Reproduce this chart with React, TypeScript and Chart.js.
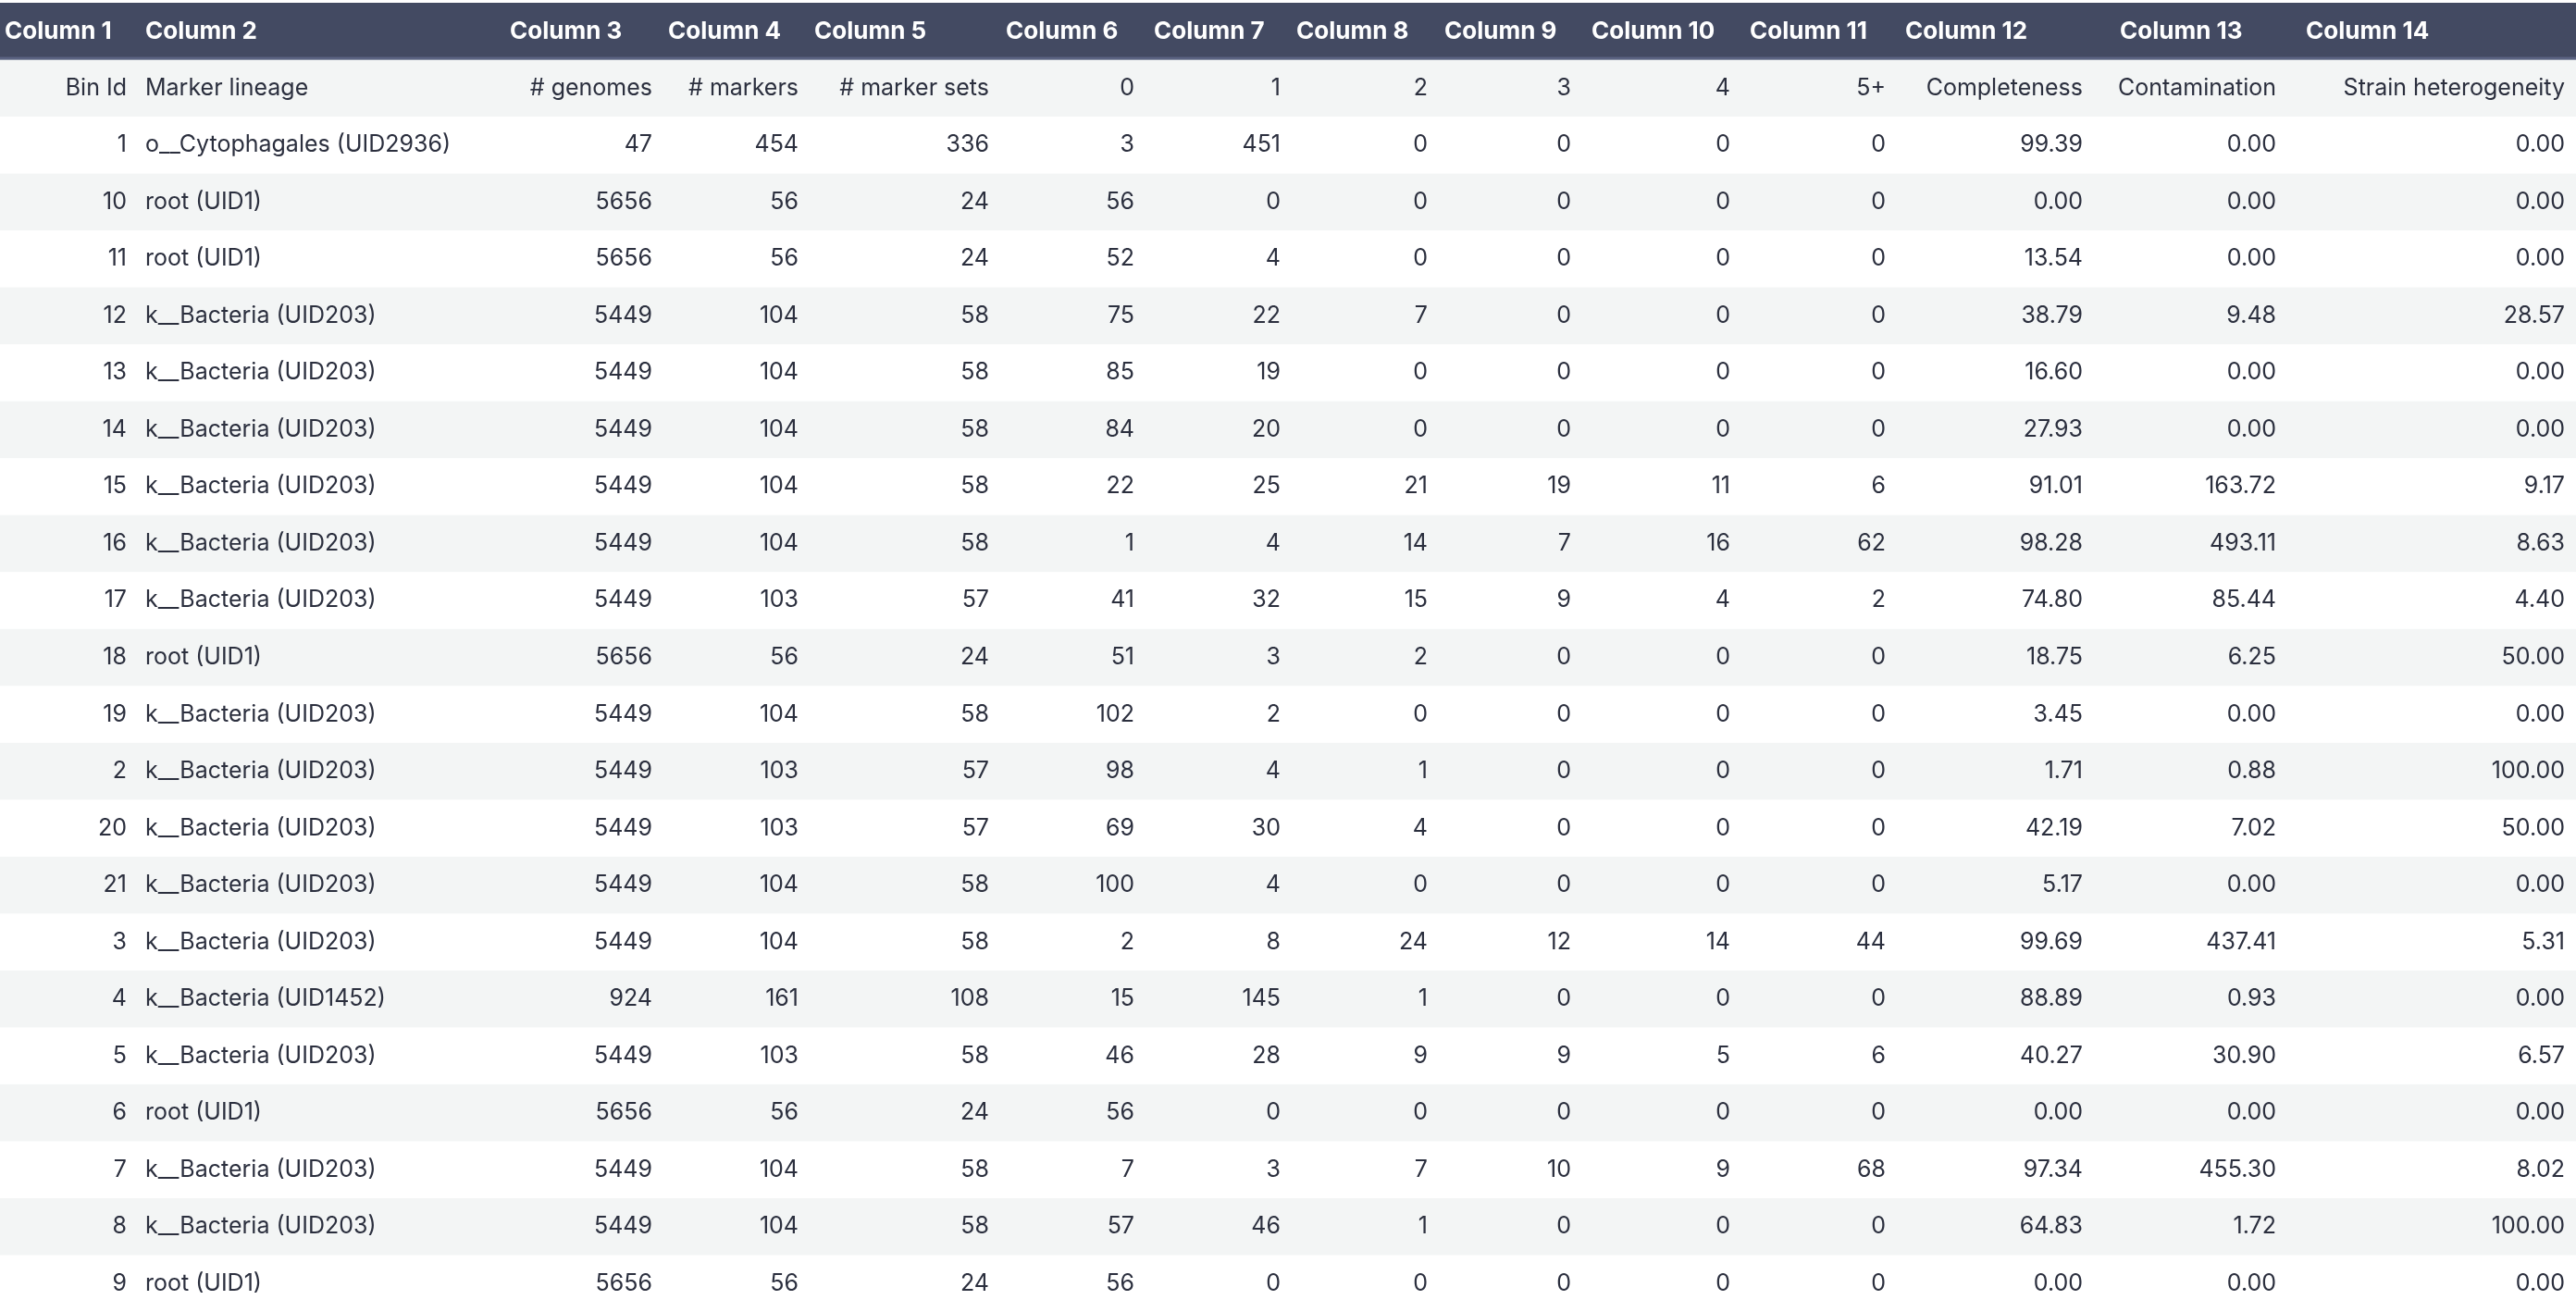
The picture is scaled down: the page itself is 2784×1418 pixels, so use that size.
import React, { useEffect, useRef } from "react";
import { Chart, registerables } from "chart.js";
Chart.register(...registerables);

const headers = ["Column 1","Column 2","Column 3","Column 4","Column 5","Column 6","Column 7","Column 8","Column 9","Column 10","Column 11","Column 12","Column 13","Column 14"];
const subHeaders = ["Bin Id","Marker lineage","# genomes","# markers","# marker sets","0","1","2","3","4","5+","Completeness","Contamination","Strain heterogeneity"];
const binIds = ["1","10","11","12","13","14","15","16","17","18","19","2","20","21","3","4","5","6","7","8","9"];
const lineages = ["o__Cytophagales (UID2936)","root (UID1)","root (UID1)","k__Bacteria (UID203)","k__Bacteria (UID203)","k__Bacteria (UID203)","k__Bacteria (UID203)","k__Bacteria (UID203)","k__Bacteria (UID203)","root (UID1)","k__Bacteria (UID203)","k__Bacteria (UID203)","k__Bacteria (UID203)","k__Bacteria (UID203)","k__Bacteria (UID203)","k__Bacteria (UID1452)","k__Bacteria (UID203)","root (UID1)","k__Bacteria (UID203)","k__Bacteria (UID203)","root (UID1)"];
const genomes = [47,5656,5656,5449,5449,5449,5449,5449,5449,5656,5449,5449,5449,5449,5449,924,5449,5656,5449,5449,5656];
const markers = [454,56,56,104,104,104,104,104,103,56,104,103,103,104,104,161,103,56,104,104,56];
const markerSets = [336,24,24,58,58,58,58,58,57,24,58,57,57,58,58,108,58,24,58,58,24];
const c0 = [3,56,52,75,85,84,22,1,41,51,102,98,69,100,2,15,46,56,7,57,56];
const c1 = [451,0,4,22,19,20,25,4,32,3,2,4,30,4,8,145,28,0,3,46,0];
const c2 = [0,0,0,7,0,0,21,14,15,2,0,1,4,0,24,1,9,0,7,1,0];
const c3 = [0,0,0,0,0,0,19,7,9,0,0,0,0,0,12,0,9,0,10,0,0];
const c4 = [0,0,0,0,0,0,11,16,4,0,0,0,0,0,14,0,5,0,9,0,0];
const c5 = [0,0,0,0,0,0,6,62,2,0,0,0,0,0,44,0,6,0,68,0,0];
const completeness = ["99.39","0.00","13.54","38.79","16.60","27.93","91.01","98.28","74.80","18.75","3.45","1.71","42.19","5.17","99.69","88.89","40.27","0.00","97.34","64.83","0.00"];
const contamination = ["0.00","0.00","0.00","9.48","0.00","0.00","163.72","493.11","85.44","6.25","0.00","0.88","7.02","0.00","437.41","0.93","30.90","0.00","455.30","1.72","0.00"];
const strain = ["0.00","0.00","0.00","28.57","0.00","0.00","9.17","8.63","4.40","50.00","0.00","100.00","50.00","0.00","5.31","0.00","6.57","0.00","8.02","100.00","0.00"];

// layout: header label left x, cell anchor x and alignment
const headerX = [5,157,551,722,880,1087,1247,1401,1561,1720,1891,2059,2291,2492];
const cellX = [137,157,705,863,1069,1226,1384,1543,1698,1870,2038,2251,2460,2772];
const cellAlign: CanvasTextAlign[] = ["right","left","right","right","right","right","right","right","right","right","right","right","right","right"];

export default function App() {
  const ref = useRef<HTMLCanvasElement>(null);
  useEffect(() => {
    document.body.style.margin = "0";
    const rows: string[][] = binIds.map((b, i) => [b, lineages[i], String(genomes[i]), String(markers[i]), String(markerSets[i]), String(c0[i]), String(c1[i]), String(c2[i]), String(c3[i]), String(c4[i]), String(c5[i]), completeness[i], contamination[i], strain[i]]);
    const nRows = rows.length + 2;
    const tablePlugin = {
      id: "table",
      beforeDraw(chart: any) {
        const { ctx } = chart;
        const y = chart.scales.y;
        const x = chart.scales.x;
        const W = chart.width;
        const half = Math.abs(y.getPixelForValue(1) - y.getPixelForValue(0)) / 2;
        ctx.save();
        ctx.fillStyle = "#ffffff";
        ctx.fillRect(0, 0, W, chart.height);
        for (let r = 0; r < nRows; r++) {
          const cy = y.getPixelForValue(r);
          if (r === 0) ctx.fillStyle = "#434a62";
          else if (r % 2 === 1) ctx.fillStyle = "#f3f5f5";
          else continue;
          ctx.fillRect(0, cy - half, W, half * 2);
        }
        ctx.fillStyle = "#5b6382";
        ctx.fillRect(0, y.getPixelForValue(0) + half - 3, W, 3);
        ctx.textBaseline = "middle";
        ctx.fillStyle = "#ffffff";
        ctx.font = "bold 26px Inter, 'Open Sans', sans-serif";
        ctx.textAlign = "left";
        headers.forEach((h, c) => ctx.fillText(h, x.getPixelForValue(headerX[c]), y.getPixelForValue(0)));
        ctx.fillStyle = "#2b2f3e";
        ctx.font = "25px Inter, 'Open Sans', sans-serif";
        const all = [subHeaders, ...rows];
        all.forEach((row, ri) => {
          const cy = y.getPixelForValue(ri + 1);
          row.forEach((t, c) => {
            ctx.textAlign = cellAlign[c];
            ctx.fillText(t, x.getPixelForValue(cellX[c]), cy);
          });
        });
        ctx.restore();
      },
    };
    const chart = new Chart(ref.current!, {
      type: "scatter",
      data: { datasets: [{ data: [] }] },
      options: {
        animation: false,
        responsive: false,
        devicePixelRatio: 1,
        layout: { padding: { top: 3 } },
        plugins: { legend: { display: false }, tooltip: { enabled: false } },
        scales: {
          x: { type: "linear", min: 0, max: 2784, display: false },
          y: { type: "linear", min: -0.5, max: nRows - 0.5, reverse: true, display: false },
        },
      },
      plugins: [tablePlugin],
    });
    return () => chart.destroy();
  }, []);
  return <canvas ref={ref} width={2784} height={1418} style={{ display: "block" }} />;
}
